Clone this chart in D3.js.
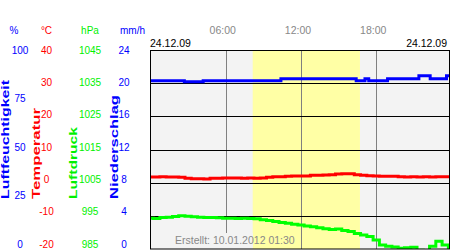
<!DOCTYPE html>
<html>
<head>
<meta charset="utf-8">
<script src="https://cdn.jsdelivr.net/npm/d3@7"></script>
<style>
  body { margin: 0; background: #fff; }
  svg { display: block; font-family: "Liberation Sans", Arial, sans-serif; }
</style>
</head>
<body>
<div id="chart"></div>
<script>
// humidity (%), read as steps: time in hours and value
const humHours  = [0, 2.7, 4.2, 10.4, 16.4, 17.1, 17.4, 18.9, 21.4, 22.3, 23.6, 24];
const humValues = [84.5, 84.0, 84.5, 85.6, 84.5, 85.6, 84.5, 85.6, 87.0, 85.6, 87.0, 87.0];

// half hourly readings 00:00 .. 24:00
const halfHours = d3.range(0, 24.5, 0.5);
const tempValues = [1.7, 1.7, 1.8, 1.7, 1.7, 1.6, 1.3, 1.2, 1.2, 1.1, 1.3, 1.3,
                    1.4, 1.4, 1.4, 1.3, 1.4, 1.3, 1.4, 1.6, 1.8, 1.8, 1.9, 2.0,
                    2.0, 2.0, 2.2, 2.2, 2.3, 2.4, 2.6, 2.7, 2.7, 2.4, 2.2, 2.1,
                    2.0, 1.9, 1.9, 1.9, 1.8, 1.7, 1.8, 1.7, 1.8, 1.7, 1.8, 1.8, 1.8];
const pressValues = [994.3, 994.2, 994.5, 994.6, 994.8, 995.0, 994.9, 994.7, 994.6, 994.5,
                     994.5, 994.4, 994.3, 994.3, 994.2, 994.3, 994.2, 994.1, 993.8, 993.6,
                     993.3, 993.0, 992.8, 992.5, 992.2, 991.9, 991.7, 991.4, 991.1, 990.9,
                     991.0, 990.6, 990.3, 989.7, 989.2, 988.8, 987.7, 986.2, 985.8, 985.6,
                     985.2, 985.4, 985.5, 984.6, 984.5, 985.8, 987.3, 986.2, 985.0];

const timeTicks = [6, 12, 18];
const timeLabels = ["06:00", "12:00", "18:00"];
const daylight = [8.15, 16.7];

const humTicks = [100, 75, 50, 25, 0];
const tempTicks = [40, 30, 20, 10, 0, -10, -20];
const pressTicks = [1045, 1035, 1025, 1015, 1005, 995, 985];
const rainTicks = [24, 20, 16, 12, 8, 4, 0];
const gridTicks = [4, 8, 12, 16, 20];

const W = 450, H = 250;
const plot = {left: 150.5, right: 449.5, top: 50.5, bottom: 249};

const svg = d3.select("#chart").append("svg")
    .attr("width", W)
    .attr("height", H);

// scales
const x = d3.scaleLinear().domain([0, 24]).range([150.5, 451.5]);
const yHum = d3.scaleLinear().domain([0, 100]).range([249, 50]);
const yTemp = d3.scaleLinear().domain([-20, 40]).range([249, 50]);
const yPress = d3.scaleLinear().domain([985, 1045]).range([249, 50]);
const yRain = d3.scaleLinear().domain([0, 24]).range([249, 50]);

// the tick labels sit a bit tighter than the grid
const lHum = d3.scaleLinear().domain([0, 100]).range([244, 50]);
const lTemp = d3.scaleLinear().domain([-20, 40]).range([244, 50]);
const lPress = d3.scaleLinear().domain([985, 1045]).range([244, 50]);
const lRain = d3.scaleLinear().domain([0, 24]).range([244, 50]);

svg.append("defs").append("clipPath").attr("id", "clip")
  .append("rect")
    .attr("x", plot.left)
    .attr("y", plot.top)
    .attr("width", plot.right - plot.left)
    .attr("height", plot.bottom - plot.top);

// plot background + daylight band
svg.append("rect")
    .attr("x", plot.left)
    .attr("y", plot.top)
    .attr("width", plot.right - plot.left)
    .attr("height", plot.bottom - plot.top)
    .attr("fill", "#f3f3f3");

svg.append("rect")
    .attr("x", x(daylight[0]))
    .attr("y", plot.top)
    .attr("width", x(daylight[1]) - x(daylight[0]))
    .attr("height", plot.bottom - plot.top)
    .attr("fill", "#ffffa5");

// vertical time lines
svg.selectAll(".vline")
    .data(timeTicks)
    .enter().append("line")
    .attr("class", "vline")
    .attr("x1", d => Math.round(x(d)) + 0.5)
    .attr("x2", d => Math.round(x(d)) + 0.5)
    .attr("y1", plot.top)
    .attr("y2", plot.bottom)
    .attr("stroke", "#808080")
    .attr("stroke-width", 1);

// horizontal grid
svg.selectAll(".hline")
    .data(gridTicks)
    .enter().append("line")
    .attr("class", "hline")
    .attr("x1", plot.left)
    .attr("x2", plot.right)
    .attr("y1", d => Math.round(yRain(d)) + 0.5)
    .attr("y2", d => Math.round(yRain(d)) + 0.5)
    .attr("stroke", "#000")
    .attr("stroke-width", 1);

// "Erstellt" note, with a patch of background behind it
const note = svg.append("text")
    .attr("x", 175)
    .attr("y", 244)
    .attr("fill", "#888")
    .style("font-size", "10.5px")
    .text("Erstellt: 10.01.2012 01:30");
const nb = note.node().getBBox();
svg.insert("rect", "text")
    .attr("x", nb.x - 2)
    .attr("y", nb.y - 1)
    .attr("width", x(daylight[0]) - nb.x + 2)
    .attr("height", plot.bottom - nb.y + 1)
    .attr("fill", "#f3f3f3");

// data lines, stepped like the logger output
const g = svg.append("g").attr("clip-path", "url(#clip)");

g.append("path")
    .datum(humHours.map((h, i) => [h, humValues[i]]))
    .attr("fill", "none")
    .attr("stroke", "#0000ff")
    .attr("stroke-width", 3)
    .attr("d", d3.line().x(d => x(d[0])).y(d => yHum(d[1])).curve(d3.curveStepAfter));

g.append("path")
    .datum(halfHours.map((h, i) => [h, tempValues[i]]))
    .attr("fill", "none")
    .attr("stroke", "#ff0000")
    .attr("stroke-width", 3)
    .attr("d", d3.line().x(d => x(d[0])).y(d => yTemp(d[1])).curve(d3.curveStep));

g.append("path")
    .datum(halfHours.map((h, i) => [h, pressValues[i]]))
    .attr("fill", "none")
    .attr("stroke", "#00ff00")
    .attr("stroke-width", 3)
    .attr("d", d3.line().x(d => x(d[0])).y(d => yPress(d[1])).curve(d3.curveStep));

// frame
svg.append("rect")
    .attr("x", plot.left)
    .attr("y", plot.top)
    .attr("width", plot.right - plot.left)
    .attr("height", plot.bottom - plot.top)
    .attr("fill", "none")
    .attr("stroke", "#000")
    .attr("stroke-width", 1);

// header texts
svg.selectAll(".tlabel")
    .data(timeTicks)
    .enter().append("text")
    .attr("x", d => x(d) - 3)
    .attr("y", 34)
    .attr("text-anchor", "middle")
    .attr("fill", "#888")
    .style("font-size", "10.5px")
    .text((d, i) => timeLabels[i]);

svg.append("text")
    .attr("x", 150)
    .attr("y", 47)
    .style("font-size", "10.5px")
    .text("24.12.09");

svg.append("text")
    .attr("x", 447)
    .attr("y", 47)
    .attr("text-anchor", "end")
    .style("font-size", "10.5px")
    .text("24.12.09");

// unit headers
const units = [
    {t: "%", x: 14, c: "#0000ff"},
    {t: "°C", x: 46.5, c: "#ff0000"},
    {t: "hPa", x: 90, c: "#00f000"},
    {t: "mm/h", x: 132.5, c: "#0000ff"}
];
svg.selectAll(".unit")
    .data(units)
    .enter().append("text")
    .attr("x", d => d.x)
    .attr("y", 34)
    .attr("text-anchor", "middle")
    .attr("fill", d => d.c)
    .style("font-size", "10px")
    .text(d => d.t);

// tick label columns
function tickColumn(ticks, scale, cx, color) {
    svg.append("g").selectAll("text")
        .data(ticks)
        .enter().append("text")
        .attr("x", cx)
        .attr("y", d => scale(d))
        .attr("dy", "0.36em")
        .attr("text-anchor", "middle")
        .attr("fill", color)
        .style("font-size", "10px")
        .text(d => d);
}
tickColumn(humTicks, lHum, 20, "#0000ff");
tickColumn(tempTicks, lTemp, 46.5, "#ff0000");
tickColumn(pressTicks, lPress, 90, "#00f000");
tickColumn(rainTicks, lRain, 124, "#0000ff");

// rotated axis titles
const titles = [
    {t: "Luftfeuchtigkeit", x: 9, len: 119, c: "#0000ff"},
    {t: "Temperatur", x: 39.5, len: 91, c: "#ff0000"},
    {t: "Luftdruck", x: 76.5, len: 72, c: "#00f000"},
    {t: "Niederschlag", x: 117.5, len: 104, c: "#0000ff"}
];
svg.selectAll(".title")
    .data(titles)
    .enter().append("text")
    .attr("transform", d => "translate(" + d.x + ",199) rotate(-90)")
    .attr("fill", d => d.c)
    .attr("textLength", d => d.len)
    .attr("lengthAdjust", "spacingAndGlyphs")
    .style("font-size", "10.5px")
    .style("font-weight", "bold")
    .text(d => d.t);
</script>
</body>
</html>
